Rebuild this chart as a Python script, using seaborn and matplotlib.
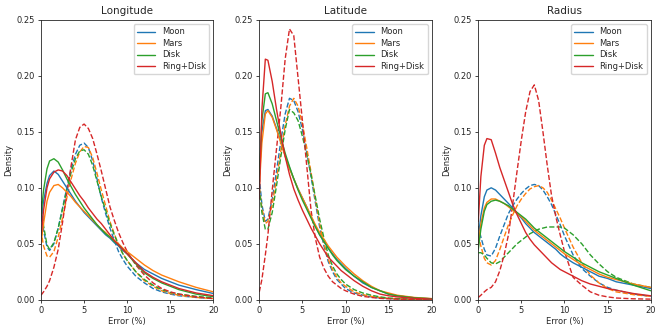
import matplotlib
matplotlib.use("Agg")
import matplotlib.pyplot as plt
import seaborn as sns
import pandas as pd

# ---------------- data ----------------
error_grid = [0, 0.3, 0.7, 1, 1.5, 2, 2.5, 3, 3.5, 4, 4.5, 5, 5.5, 6, 6.5,
              7, 7.5, 8, 8.5, 9, 9.5, 10, 11, 12, 13, 14, 15, 16, 18, 20]

panels = ["Longitude", "Latitude", "Radius"]
models = ["Moon", "Mars", "Disk", "Ring+Disk"]
model_colors = ["#1f77b4", "#ff7f0e", "#2ca02c", "#d62728"]

# Longitude - solid
lon_moon_solid = [0.070, 0.088, 0.104, 0.111, 0.115, 0.112, 0.106, 0.100, 0.094, 0.088, 0.083, 0.078, 0.074, 0.070, 0.066,
                  0.062, 0.058, 0.055, 0.051, 0.048, 0.044, 0.041, 0.033, 0.027, 0.023, 0.019, 0.016, 0.013, 0.009, 0.0055]
lon_mars_solid = [0.050, 0.068, 0.088, 0.096, 0.102, 0.103, 0.100, 0.096, 0.092, 0.087, 0.083, 0.079, 0.075, 0.071, 0.067,
                  0.063, 0.060, 0.056, 0.053, 0.050, 0.046, 0.043, 0.037, 0.031, 0.026, 0.022, 0.019, 0.016, 0.011, 0.007]
lon_disk_solid = [0.075, 0.098, 0.117, 0.124, 0.126, 0.123, 0.116, 0.108, 0.101, 0.094, 0.088, 0.082, 0.077, 0.072, 0.067,
                  0.063, 0.059, 0.056, 0.052, 0.049, 0.045, 0.041, 0.032, 0.024, 0.019, 0.015, 0.012, 0.009, 0.005, 0.0027]
lon_ring_solid = [0.055, 0.080, 0.100, 0.108, 0.114, 0.116, 0.115, 0.111, 0.105, 0.099, 0.093, 0.088, 0.082, 0.077, 0.072,
                  0.068, 0.063, 0.058, 0.053, 0.049, 0.045, 0.041, 0.033, 0.025, 0.020, 0.016, 0.013, 0.010, 0.006, 0.0036]
# Longitude - dashed
lon_moon_dash = [0.085, 0.062, 0.047, 0.044, 0.050, 0.064, 0.082, 0.100, 0.117, 0.130, 0.138, 0.140, 0.136, 0.124, 0.108,
                 0.091, 0.077, 0.064, 0.053, 0.043, 0.036, 0.030, 0.021, 0.015, 0.010, 0.007, 0.005, 0.0035, 0.002, 0.001]
lon_mars_dash = [0.062, 0.048, 0.039, 0.038, 0.043, 0.056, 0.073, 0.091, 0.108, 0.122, 0.132, 0.137, 0.136, 0.127, 0.113,
                 0.098, 0.084, 0.070, 0.059, 0.049, 0.041, 0.035, 0.025, 0.017, 0.012, 0.008, 0.0055, 0.004, 0.002, 0.001]
lon_disk_dash = [0.088, 0.066, 0.049, 0.045, 0.051, 0.064, 0.081, 0.098, 0.114, 0.126, 0.133, 0.134, 0.130, 0.120, 0.106,
                 0.092, 0.080, 0.068, 0.058, 0.049, 0.041, 0.035, 0.025, 0.018, 0.013, 0.009, 0.0065, 0.005, 0.003, 0.0015]
lon_ring_dash = [0.004, 0.007, 0.012, 0.017, 0.029, 0.045, 0.069, 0.095, 0.120, 0.143, 0.154, 0.157, 0.153, 0.144, 0.130,
                 0.115, 0.099, 0.083, 0.071, 0.060, 0.051, 0.043, 0.031, 0.022, 0.015, 0.010, 0.007, 0.005, 0.0025, 0.001]

# Latitude - solid
lat_moon_solid = [0.110, 0.150, 0.169, 0.170, 0.164, 0.153, 0.141, 0.129, 0.118, 0.108, 0.099, 0.091, 0.083, 0.074, 0.066,
                  0.058, 0.052, 0.046, 0.041, 0.036, 0.032, 0.028, 0.021, 0.015, 0.011, 0.008, 0.005, 0.0035, 0.0017, 0.0008]
lat_mars_solid = [0.100, 0.140, 0.166, 0.169, 0.163, 0.152, 0.140, 0.128, 0.117, 0.108, 0.099, 0.091, 0.083, 0.075, 0.067,
                  0.060, 0.054, 0.048, 0.043, 0.038, 0.034, 0.030, 0.023, 0.017, 0.012, 0.008, 0.006, 0.004, 0.002, 0.001]
lat_disk_solid = [0.110, 0.160, 0.184, 0.185, 0.175, 0.160, 0.145, 0.131, 0.119, 0.108, 0.098, 0.089, 0.081, 0.073, 0.065,
                  0.058, 0.052, 0.046, 0.040, 0.035, 0.031, 0.027, 0.021, 0.016, 0.011, 0.008, 0.005, 0.0035, 0.0017, 0.0008]
lat_ring_solid = [0.090, 0.170, 0.215, 0.214, 0.195, 0.170, 0.148, 0.128, 0.112, 0.099, 0.089, 0.080, 0.072, 0.064, 0.057,
                  0.050, 0.044, 0.038, 0.034, 0.030, 0.026, 0.023, 0.017, 0.012, 0.008, 0.005, 0.0035, 0.0025, 0.0012, 0.0005]
# Latitude - dashed
lat_moon_dash = [0.110, 0.085, 0.070, 0.072, 0.090, 0.115, 0.142, 0.166, 0.180, 0.178, 0.168, 0.152, 0.132, 0.110, 0.087,
                 0.065, 0.048, 0.034, 0.025, 0.018, 0.014, 0.010, 0.006, 0.004, 0.0025, 0.0015, 0.001, 0.0007, 0.0003, 0.0001]
lat_mars_dash = [0.100, 0.082, 0.068, 0.070, 0.085, 0.108, 0.133, 0.156, 0.173, 0.180, 0.173, 0.157, 0.136, 0.114, 0.090,
                 0.068, 0.050, 0.036, 0.027, 0.020, 0.015, 0.012, 0.007, 0.0045, 0.003, 0.002, 0.0012, 0.0008, 0.0003, 0.0001]
lat_disk_dash = [0.100, 0.078, 0.063, 0.063, 0.078, 0.102, 0.128, 0.152, 0.170, 0.167, 0.160, 0.146, 0.130, 0.112, 0.092,
                 0.072, 0.055, 0.040, 0.030, 0.023, 0.018, 0.014, 0.009, 0.006, 0.004, 0.0025, 0.0015, 0.001, 0.0005, 0.0002]
lat_ring_dash = [0.007, 0.018, 0.040, 0.058, 0.098, 0.135, 0.172, 0.215, 0.242, 0.236, 0.198, 0.160, 0.120, 0.080, 0.055,
                 0.038, 0.028, 0.021, 0.016, 0.013, 0.010, 0.008, 0.005, 0.003, 0.002, 0.0012, 0.0008, 0.0005, 0.0002, 0.0001]

# Radius - solid
rad_moon_solid = [0.055, 0.075, 0.092, 0.098, 0.100, 0.098, 0.094, 0.090, 0.086, 0.082, 0.077, 0.073, 0.068, 0.064, 0.060,
                  0.057, 0.054, 0.051, 0.048, 0.045, 0.041, 0.038, 0.033, 0.029, 0.025, 0.021, 0.019, 0.016, 0.013, 0.010]
rad_mars_solid = [0.050, 0.068, 0.082, 0.087, 0.090, 0.090, 0.088, 0.086, 0.083, 0.080, 0.077, 0.074, 0.070, 0.066, 0.062,
                  0.059, 0.056, 0.053, 0.050, 0.047, 0.044, 0.041, 0.036, 0.031, 0.027, 0.023, 0.020, 0.018, 0.014, 0.011]
rad_disk_solid = [0.045, 0.063, 0.079, 0.085, 0.088, 0.089, 0.088, 0.086, 0.084, 0.081, 0.078, 0.075, 0.072, 0.068, 0.064,
                  0.061, 0.058, 0.055, 0.052, 0.049, 0.046, 0.043, 0.038, 0.033, 0.029, 0.025, 0.022, 0.019, 0.013, 0.008]
rad_ring_solid = [0.070, 0.110, 0.138, 0.144, 0.143, 0.131, 0.118, 0.107, 0.096, 0.085, 0.076, 0.068, 0.060, 0.054, 0.049,
                  0.045, 0.041, 0.037, 0.033, 0.030, 0.027, 0.025, 0.021, 0.017, 0.014, 0.012, 0.010, 0.0085, 0.0055, 0.0035]
# Radius - dashed
rad_moon_dash = [0.066, 0.056, 0.045, 0.040, 0.039, 0.046, 0.057, 0.067, 0.077, 0.084, 0.090, 0.095, 0.099, 0.102, 0.103,
                 0.102, 0.098, 0.092, 0.085, 0.076, 0.067, 0.057, 0.040, 0.028, 0.021, 0.015, 0.011, 0.0085, 0.005, 0.003]
rad_mars_dash = [0.058, 0.048, 0.037, 0.033, 0.031, 0.035, 0.045, 0.056, 0.067, 0.076, 0.084, 0.090, 0.095, 0.099, 0.101,
                 0.102, 0.100, 0.096, 0.089, 0.081, 0.073, 0.064, 0.047, 0.033, 0.022, 0.015, 0.010, 0.007, 0.0045, 0.003]
rad_disk_dash = [0.042, 0.042, 0.040, 0.037, 0.033, 0.032, 0.034, 0.038, 0.042, 0.046, 0.050, 0.053, 0.056, 0.059, 0.061,
                 0.063, 0.064, 0.065, 0.065, 0.065, 0.065, 0.064, 0.058, 0.050, 0.040, 0.032, 0.025, 0.020, 0.014, 0.011]
rad_ring_dash = [0.002, 0.004, 0.007, 0.009, 0.011, 0.016, 0.026, 0.040, 0.058, 0.086, 0.115, 0.143, 0.168, 0.186, 0.192,
                 0.178, 0.150, 0.120, 0.093, 0.074, 0.058, 0.043, 0.020, 0.013, 0.007, 0.004, 0.0025, 0.0015, 0.0008, 0.0005]

solid_curves = {
    "Longitude": [lon_moon_solid, lon_mars_solid, lon_disk_solid, lon_ring_solid],
    "Latitude": [lat_moon_solid, lat_mars_solid, lat_disk_solid, lat_ring_solid],
    "Radius": [rad_moon_solid, rad_mars_solid, rad_disk_solid, rad_ring_solid],
}
dashed_curves = {
    "Longitude": [lon_moon_dash, lon_mars_dash, lon_disk_dash, lon_ring_dash],
    "Latitude": [lat_moon_dash, lat_mars_dash, lat_disk_dash, lat_ring_dash],
    "Radius": [rad_moon_dash, rad_mars_dash, rad_disk_dash, rad_ring_dash],
}

# ---------------- plot ----------------
sns.set_style("ticks")
plt.rcParams["font.family"] = ["DejaVu Sans"]

fig = plt.figure(figsize=(6.64, 3.32), dpi=100)
lefts = [0.0617, 0.3905, 0.7203]
width, bottom, height = 0.2597, 0.0973, 0.8425

for i, panel in enumerate(panels):
    ax = fig.add_axes([lefts[i], bottom, width, height])
    for m, col, ys in zip(models, model_colors, dashed_curves[panel]):
        df = pd.DataFrame({"error": error_grid, "density": ys})
        sns.lineplot(data=df, x="error", y="density", ax=ax, color=col,
                     linewidth=1.0, linestyle=(0, (3.7, 1.6)), legend=False)
    for m, col, ys in zip(models, model_colors, solid_curves[panel]):
        df = pd.DataFrame({"error": error_grid, "density": ys})
        sns.lineplot(data=df, x="error", y="density", ax=ax, color=col,
                     linewidth=1.0, label=m)
    ax.set_xlim(0, 20)
    ax.set_ylim(0, 0.25)
    ax.set_xticks([0, 5, 10, 15, 20])
    ax.set_yticks([0, 0.05, 0.10, 0.15, 0.20, 0.25])
    ax.set_yticklabels(["0.00", "0.05", "0.10", "0.15", "0.20", "0.25"])
    ax.tick_params(labelsize=6, length=2.5, width=0.6, pad=2)
    ax.set_xlabel("Error (%)", fontsize=6, labelpad=1.5)
    ax.set_ylabel("Density", fontsize=6, labelpad=2)
    ax.set_title(panel, fontsize=7.5, pad=4)
    for s in ax.spines.values():
        s.set_linewidth(0.6)
    ax.legend(loc="upper right", fontsize=6, frameon=True, handlelength=2.2,
              borderpad=0.4, labelspacing=0.3, handletextpad=0.8,
              fancybox=True, framealpha=0.8, edgecolor="#cccccc")

fig.savefig("out.png", dpi=100)
